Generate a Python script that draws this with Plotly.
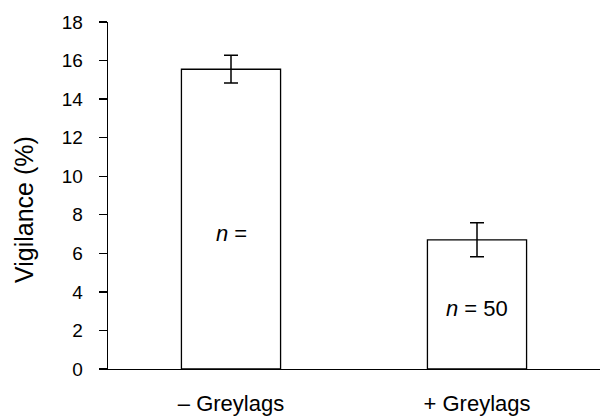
import plotly.graph_objects as go

categories = ["\u2013 Greylags", "+ Greylags"]
vigilance = [15.55, 6.7]
sem = [0.72, 0.88]
n_labels = ["<i>n</i> =", "<i>n</i> = 50"]
n_label_y = [7.05, 3.16]
y_ticks = [0, 2, 4, 6, 8, 10, 12, 14, 16, 18]
y_title = "Vigilance (%)"

font = "Liberation Sans, Arial, Helvetica, sans-serif"

fig = go.Figure()
fig.add_trace(go.Bar(
    x=[0, 1], y=vigilance, width=0.403,
    marker=dict(color="white", line=dict(color="black", width=1.3)),
    error_y=dict(type="data", array=sem, visible=True, color="black",
                 thickness=1.5, width=7),
    showlegend=False, hoverinfo="skip",
))

for i, (lbl, yy) in enumerate(zip(n_labels, n_label_y)):
    fig.add_annotation(x=i, y=yy, text=lbl, showarrow=False,
                       font=dict(family=font, size=22, color="black"))

# y-axis title placed as a rotated annotation
fig.add_annotation(xref="paper", yref="paper", x=(24 - 108) / 492,
                   y=(369 - 210) / 347, text=y_title, textangle=-90,
                   showarrow=False, xanchor="center", yanchor="middle",
                   font=dict(family=font, size=25, color="black"))

fig.update_layout(
    width=602, height=416,
    margin=dict(l=108, r=2, t=22, b=47),
    paper_bgcolor="white", plot_bgcolor="white",
    font=dict(family=font, size=19, color="black"),
    xaxis=dict(range=[-0.5, 1.5], tickvals=[0, 1], ticktext=categories,
               showline=True, linecolor="black", linewidth=1.3,
               ticks="", showgrid=False, zeroline=False, automargin=False,
               tickfont=dict(size=22), ticklabelstandoff=14),
    yaxis=dict(range=[0, 18], tickvals=y_ticks, showline=True,
               linecolor="black", linewidth=1.3, ticks="outside",
               ticklen=8, tickwidth=1.3, tickcolor="black",
               showgrid=False, zeroline=False, ticklabelstandoff=12,
               automargin=False, tickfont=dict(size=19)),
)

fig.write_html("out.html",
               config={"displayModeBar": False, "staticPlot": True},
               post_script="document.body.style.margin='0';"
                           "document.body.style.overflow='hidden';")
